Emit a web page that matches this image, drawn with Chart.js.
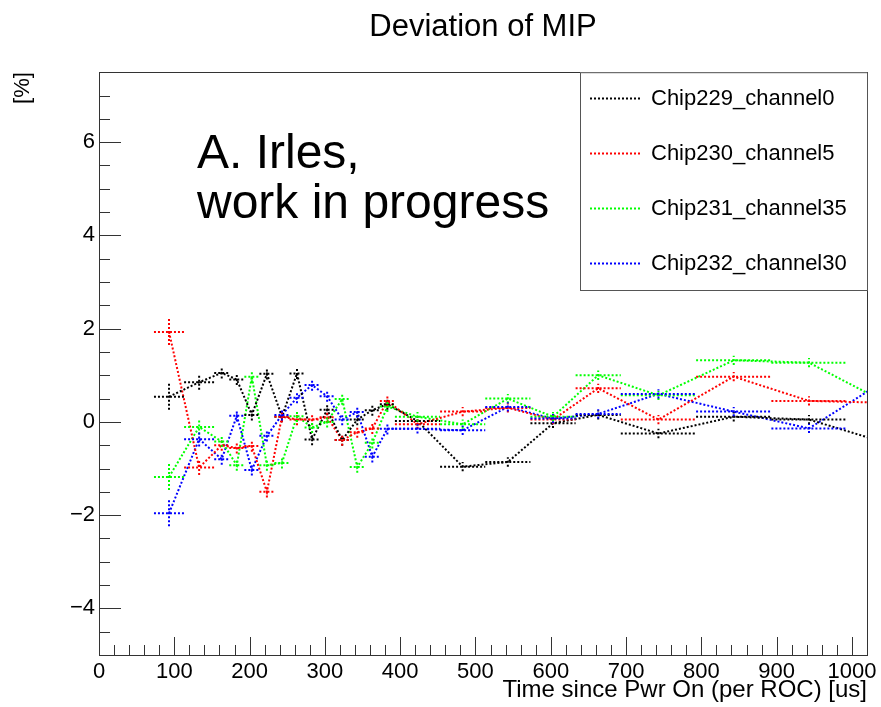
<!DOCTYPE html>
<html><head><meta charset="utf-8">
<script src="https://cdn.jsdelivr.net/npm/chart.js@4"></script>
<style>html,body{margin:0;padding:0;background:#fff}</style>
</head><body>
<canvas id="c" width="881" height="707"></canvas>
<script>
// ---- data ----
const timeUs  = [93,133,163,183,203,223,243,263,283,303,323,343,363,383,423,483,543,603,663,743,843,943,1043];
const timeErr = [20,20,10,10,10,10,10,10,10,10,10,10,10,10,30,30,30,30,30,50,50,50,20];
const devErr  = [0.28,0.16,0.12,0.12,0.12,0.12,0.12,0.12,0.12,0.12,0.12,0.12,0.12,0.12,0.1,0.1,0.1,0.1,0.1,0.1,0.1,0.1,0.1];

const chip229 = [0.54,0.85,1.05,0.91,0.15,1.03,0.11,1.04,-0.38,0.26,-0.39,0.05,0.25,0.38,0.02,-0.96,-0.86,-0.03,0.15,-0.25,0.11,0.05,-0.44];
const chip230 = [1.93,-0.98,-0.5,-0.56,-0.52,-1.5,0.11,0.05,0.05,0.1,-0.39,-0.22,-0.14,0.45,-0.05,0.22,0.3,0.05,0.72,0.05,0.97,0.45,0.41];
const chip231 = [-1.18,-0.11,-0.42,-0.93,0.97,-0.93,-0.88,0.12,-0.12,0.0,0.49,-0.97,-0.45,0.33,0.11,-0.05,0.5,0.11,1.0,0.57,1.32,1.27,0.43];
const chip232 = [-1.96,-0.37,-0.8,0.13,-1.03,-0.3,0.15,0.52,0.79,0.55,0.05,0.21,-0.75,-0.15,-0.15,-0.18,0.32,0.07,0.17,0.6,0.22,-0.14,0.88];

const seriesNames  = ['Chip229_channel0','Chip230_channel5','Chip231_channel35','Chip232_channel30'];
const seriesValues = [chip229, chip230, chip231, chip232];
const seriesColors = ['#000000','#ff0000','#00ff00','#0000ff'];

const titleText = 'Deviation of MIP';
const xTitle = 'Time since Pwr On (per ROC) [us]';
const yTitle = '[%]';
const noteLines = ['A. Irles,', 'work in progress'];

const FONT = "'Liberation Sans', Arial, Helvetica, sans-serif";

const datasets = seriesValues.map((vals, i) => ({
  label: seriesNames[i],
  data: vals.map((v, k) => ({x: timeUs[k], y: v, xe: timeErr[k], ye: devErr[k]})),
  showLine: true,
  borderColor: seriesColors[i],
  backgroundColor: seriesColors[i],
  borderWidth: 2,
  borderDash: [2, 2],
  pointRadius: 0,
  pointHoverRadius: 0,
  tension: 0
}));

const fmtNum = v => (v < 0 ? '\u2212' + Math.abs(v) : String(v));

const rootPlugin = {
  id: 'rootStyle',
  afterDatasetsDraw(chart) {
    const ctx = chart.ctx, ca = chart.chartArea;
    const xs = chart.scales.x, ys = chart.scales.y;
    ctx.save();
    ctx.beginPath();
    ctx.rect(ca.left, ca.top, ca.right - ca.left, ca.bottom - ca.top);
    ctx.clip();
    ctx.lineWidth = 2;
    ctx.setLineDash([2, 2]);
    chart.data.datasets.forEach(ds => {
      ctx.strokeStyle = ds.borderColor;
      ds.data.forEach(p => {
        const px = xs.getPixelForValue(p.x), py = ys.getPixelForValue(p.y);
        ctx.beginPath();
        ctx.moveTo(xs.getPixelForValue(p.x - p.xe), py);
        ctx.lineTo(xs.getPixelForValue(p.x + p.xe), py);
        ctx.moveTo(px, ys.getPixelForValue(p.y - p.ye));
        ctx.lineTo(px, ys.getPixelForValue(p.y + p.ye));
        ctx.stroke();
      });
    });
    ctx.restore();
  },
  afterDraw(chart) {
    const ctx = chart.ctx, ca = chart.chartArea;
    const xs = chart.scales.x, ys = chart.scales.y;
    ctx.save();
    // frame
    ctx.strokeStyle = '#333';
    ctx.lineWidth = 1;
    ctx.setLineDash([]);
    ctx.strokeRect(Math.round(ca.left) + 0.5, Math.round(ca.top) + 0.5,
                   Math.round(ca.right - ca.left), Math.round(ca.bottom - ca.top));
    // x ticks (inward)
    ctx.beginPath();
    for (let v = xs.min; v <= xs.max + 1e-6; v += 20) {
      const px = Math.round(xs.getPixelForValue(v)) + 0.5;
      const len = (Math.round(v) % 100 === 0) ? 18 : 10;
      ctx.moveTo(px, ca.bottom);
      ctx.lineTo(px, ca.bottom - len);
    }
    // y ticks (inward)
    for (let v = ys.min; v <= ys.max + 1e-6; v += 0.5) {
      const py = Math.round(ys.getPixelForValue(v)) + 0.5;
      const len = (Math.abs(v / 2 - Math.round(v / 2)) < 1e-6) ? 22 : 11;
      ctx.moveTo(ca.left, py);
      ctx.lineTo(ca.left + len, py);
    }
    ctx.stroke();

    // legend box
    const lx0 = 580, ly0 = ca.top, lx1 = ca.right, ly1 = 290;
    ctx.fillStyle = '#fff';
    ctx.fillRect(lx0, ly0, lx1 - lx0, ly1 - ly0);
    ctx.strokeStyle = '#555';
    ctx.strokeRect(lx0 + 0.5, ly0 + 0.5, lx1 - lx0, ly1 - ly0);
    const rows = [98, 153, 208, 263];
    ctx.font = '22px ' + FONT;
    ctx.textBaseline = 'middle';
    ctx.textAlign = 'left';
    chart.data.datasets.forEach((ds, i) => {
      const y = rows[i] + 0.5;
      ctx.strokeStyle = ds.borderColor;
      ctx.lineWidth = 2;
      ctx.setLineDash([2, 2]);
      ctx.beginPath();
      ctx.moveTo(590, y);
      ctx.lineTo(641, y);
      ctx.stroke();
      ctx.fillStyle = '#000';
      ctx.fillText(ds.label, 651, rows[i] + 1);
    });
    ctx.setLineDash([]);

    // annotation
    ctx.font = '48px ' + FONT;
    ctx.textBaseline = 'alphabetic';
    ctx.fillStyle = '#000';
    ctx.fillText(noteLines[0], 197, 168);
    ctx.fillText(noteLines[1], 197, 218);
    ctx.restore();
  }
};

new Chart(document.getElementById('c'), {
  type: 'scatter',
  data: { datasets },
  plugins: [rootPlugin],
  options: {
    responsive: false,
    animation: false,
    devicePixelRatio: 1,
    layout: { padding: { top: 0, right: 14, bottom: 0, left: 0 } },
    plugins: {
      legend: { display: false },
      tooltip: { enabled: false },
      title: {
        display: true,
        text: titleText,
        fullSize: false,
        color: '#000',
        font: { family: FONT, size: 31, weight: 'normal' },
        lineHeight: 1.2,
        padding: { top: 9, bottom: 26 }
      }
    },
    scales: {
      x: {
        type: 'linear',
        min: 0, max: 1020,
        grid: { display: false, drawTicks: false },
        border: { display: false },
        ticks: { stepSize: 100, includeBounds: false, padding: 4, color: '#000', maxRotation: 0,
                 font: { family: FONT, size: 22 }, callback: v => fmtNum(v) },
        title: { display: true, text: xTitle, align: 'end', color: '#000',
                 font: { family: FONT, size: 24 }, padding: { top: 0, bottom: 2 } },
        afterFit(s) { s.height = 52; }
      },
      y: {
        type: 'linear',
        min: -5, max: 7.5,
        grid: { display: false, drawTicks: false },
        border: { display: false },
        ticks: { stepSize: 2, includeBounds: false, padding: 4, color: '#000',
                 font: { family: FONT, size: 22 }, callback: v => fmtNum(v) },
        title: { display: true, text: yTitle, align: 'end', color: '#000',
                 font: { family: FONT, size: 22 }, padding: { top: 10, bottom: 0 } },
        afterFit(s) { s.width = 99; }
      }
    }
  }
});
</script>
</body></html>
